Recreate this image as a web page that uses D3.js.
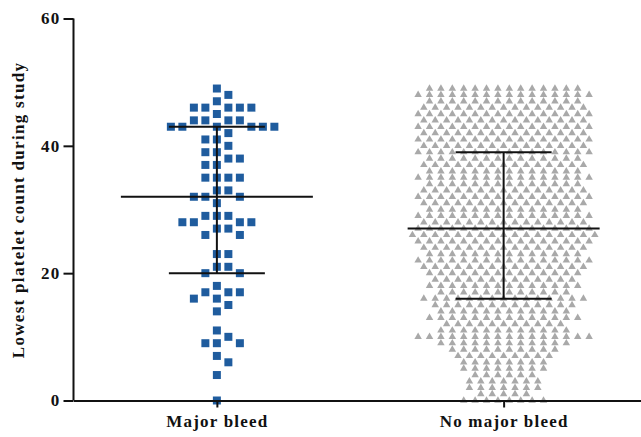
<!DOCTYPE html>
<html>
<head>
<meta charset="utf-8">
<script src="https://cdn.jsdelivr.net/npm/d3@7"></script>
<style>
  body { margin: 0; background: #fff; }
  svg text { font-family: "Liberation Serif", "Times New Roman", serif; font-weight: bold; }
</style>
</head>
<body>
<svg id="chart" width="641" height="437"></svg>
<script>
var groups = ["Major bleed", "No major bleed"];
var yTicks = [0, 20, 40, 60];

// Major bleed: individual platelet counts
var majorBleed = [49, 48, 47, 46, 46, 46, 46, 46, 45, 44, 44, 44, 44,
  43, 43, 43, 43, 43, 43, 42, 41, 41, 40, 39, 39, 38, 38, 37, 37,
  35, 35, 35, 35, 33, 33, 32, 32, 32, 31, 29, 29, 29, 28, 28, 28, 28,
  27, 27, 26, 26, 23, 23, 21, 21, 20, 20, 18, 17, 17, 17, 16, 16,
  15, 14, 11, 10, 9, 9, 9, 7, 6, 4, 0];

// No major bleed: how many patients at each count
var noMajorLevels = [49, 48, 47, 46, 45, 44, 43, 42, 41, 40,
  39, 38, 37, 36, 35, 34, 33, 32, 31, 30,
  29, 28, 27, 26, 25, 24, 23, 22, 21, 20,
  19, 18, 17, 16, 15, 14, 13, 12, 11, 10,
  9, 8, 7, 6, 5, 4, 3, 2, 1, 0];
var noMajorCounts = [14, 16, 14, 15, 16, 15, 16, 15, 16, 15,
  16, 14, 15, 14, 16, 14, 15, 16, 15, 14,
  16, 15, 16, 17, 16, 15, 14, 16, 15, 14,
  13, 14, 12, 15, 13, 12, 14, 11, 12, 16,
  12, 10, 9, 8, 8, 6, 7, 7, 5, 8];

// median and interquartile range per group
var medians = [32, 27];
var lowerQ = [20, 16];
var upperQ = [43, 39];

var svg = d3.select("#chart");

var x = d3.scalePoint().domain(groups).range([73.5, 647]).padding(0.5);
var y = d3.scaleLinear().domain([0, 60]).range([400.5, 18.5]);

var noMajor = [];
noMajorLevels.forEach(function(v, i) {
  for (var k = 0; k < noMajorCounts[i]; k++) noMajor.push(v);
});

// simple column beeswarm: rows per value, avoid overlaps
function swarm(vals, step, minDy, halfEven) {
  var placed = [];
  var byVal = d3.groups(vals, function(d) { return d; })
    .sort(function(a, b) { return b[0] - a[0]; });
  byVal.forEach(function(g) {
    var yy = y(g[0]);
    var base = (halfEven && g[1].length % 2 === 0) ? 0.5 : 0;
    var cands = [];
    for (var k = -20; k <= 20; k++) cands.push(k + base);
    cands.sort(function(a, b) { return Math.abs(a) - Math.abs(b) || b - a; });
    g[1].forEach(function(v) {
      for (var c = 0; c < cands.length; c++) {
        var col = cands[c];
        var hit = placed.some(function(p) {
          return Math.abs(p.col - col) < 0.99 && Math.abs(p.y - yy) < minDy;
        });
        if (!hit) { placed.push({value: v, col: col, y: yy, dx: col * step}); break; }
      }
    });
  });
  return placed;
}

var majorPts = swarm(majorBleed, 11.5, 8, false);
var noMajorPts = swarm(noMajor, 11.4, 6, true);

svg.append("g").selectAll("path")
  .data(noMajorPts)
  .enter().append("path")
  .attr("d", d3.symbol(d3.symbolTriangle, 24))
  .attr("transform", function(d) { return "translate(" + (x(groups[1]) + d.dx) + "," + d.y + ")"; })
  .attr("fill", "#a9a9a9");

svg.append("g").selectAll("path")
  .data(majorPts)
  .enter().append("path")
  .attr("d", d3.symbol(d3.symbolSquare, 64))
  .attr("transform", function(d) { return "translate(" + (x(groups[0]) + d.dx) + "," + d.y + ")"; })
  .attr("fill", "#1f5c9e");

// median + IQR
var stats = groups.map(function(g, i) {
  return {g: g, med: medians[i], lo: lowerQ[i], hi: upperQ[i]};
});
var st = svg.append("g").attr("stroke", "#111").attr("stroke-width", 2).attr("fill", "none");
stats.forEach(function(d) {
  var cx = x(d.g);
  st.append("line").attr("x1", cx - 96).attr("x2", cx + 96).attr("y1", y(d.med)).attr("y2", y(d.med));
  st.append("line").attr("x1", cx).attr("x2", cx).attr("y1", y(d.lo)).attr("y2", y(d.hi));
  st.append("line").attr("x1", cx - 48).attr("x2", cx + 48).attr("y1", y(d.lo)).attr("y2", y(d.lo));
  st.append("line").attr("x1", cx - 48).attr("x2", cx + 48).attr("y1", y(d.hi)).attr("y2", y(d.hi));
});

// axes
var yAxis = svg.append("g")
  .attr("transform", "translate(73.5,0)")
  .call(d3.axisLeft(y).tickValues(yTicks).tickSize(10).tickSizeOuter(0).tickPadding(3));
var xAxis = svg.append("g")
  .attr("transform", "translate(0,400.5)")
  .call(d3.axisBottom(x).tickSize(7).tickSizeOuter(0).tickPadding(7));

[yAxis, xAxis].forEach(function(a) {
  a.select(".domain").attr("stroke", "#111").attr("stroke-width", 2);
  a.selectAll(".tick line").attr("stroke", "#111").attr("stroke-width", 2);
  a.selectAll(".tick text").attr("fill", "#111").style("font-size", "17px").style("letter-spacing", "1.2px");
});
yAxis.select(".domain").attr("d", "M0," + y(60) + "V" + y(0));

svg.append("text")
  .attr("transform", "translate(24," + 210 + ") rotate(-90)")
  .attr("text-anchor", "middle")
  .attr("fill", "#111")
  .style("font-size", "17px")
  .style("letter-spacing", "1.3px")
  .text("Lowest platelet count during study");
</script>
</body>
</html>
